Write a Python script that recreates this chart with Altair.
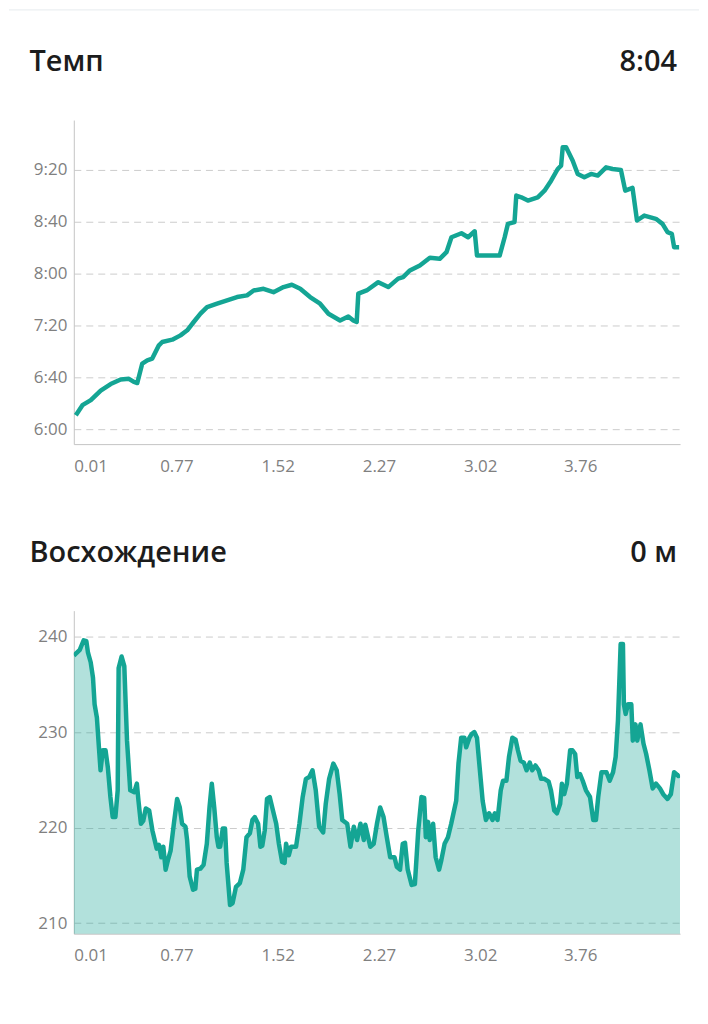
import altair as alt
import pandas as pd

# ---------------- data ----------------
pace_title = "Темп"
pace_value = "8:04"
elev_title = "Восхождение"
elev_value = "0 м"

x_ticks = [0.01, 0.77, 1.52, 2.27, 3.02, 3.76]
pace_ticks = [360, 400, 440, 480, 520, 560]   # seconds per km (6:00 ... 9:20)
elev_ticks = [210, 220, 230, 240]

pace_km = [0.025, 0.074, 0.136, 0.209, 0.283, 0.357, 0.418, 0.455, 0.480, 0.517,
           0.554, 0.591, 0.640, 0.665, 0.739, 0.800, 0.850, 0.898, 0.948, 0.997,
           1.071, 1.145, 1.219, 1.293, 1.342, 1.415, 1.489, 1.563, 1.625, 1.687,
           1.760, 1.834, 1.896, 1.982, 2.043, 2.080, 2.105, 2.117, 2.179, 2.265,
           2.339, 2.412, 2.449, 2.499, 2.573, 2.647, 2.720, 2.770, 2.807, 2.881,
           2.930, 2.979, 2.996, 3.090, 3.164, 3.201, 3.225, 3.274, 3.287, 3.324,
           3.373, 3.446, 3.496, 3.545, 3.594, 3.619, 3.631, 3.656, 3.705, 3.742,
           3.791, 3.841, 3.890, 3.952, 4.000, 4.062, 4.094, 4.148, 4.181, 4.235,
           4.321, 4.370, 4.407, 4.439, 4.456, 4.493]
pace_sec = [371.0, 378.7, 382.6, 390.0, 395.0, 398.5, 399.0, 396.6, 395.8, 410.8,
            413.3, 414.6, 424.8, 427.4, 429.2, 432.5, 436.4, 442.8, 449.2, 454.3,
            456.9, 459.4, 462.0, 463.3, 467.1, 468.4, 465.8, 469.7, 471.5, 468.4,
            462.0, 456.9, 449.2, 444.0, 447.1, 444.0, 442.8, 464.6, 467.1, 473.5,
            469.7, 476.2, 477.4, 482.5, 486.4, 492.3, 491.5, 496.6, 508.1, 511.2,
            508.1, 512.7, 494.0, 494.0, 494.0, 508.1, 518.4, 519.7, 540.2, 538.9,
            536.4, 538.9, 544.0, 551.7, 560.7, 563.3, 577.4, 577.4, 567.1, 556.9,
            554.3, 556.9, 555.6, 562.0, 560.7, 559.9, 544.0, 546.1, 521.0, 524.8,
            522.3, 518.4, 512.0, 510.7, 500.4, 500.4]

elev_km = [0.010, 0.054, 0.083, 0.103, 0.115, 0.135, 0.152, 0.164, 0.181, 0.196,
           0.208, 0.225, 0.245, 0.262, 0.281, 0.298, 0.318, 0.335, 0.342, 0.364,
           0.384, 0.404, 0.428, 0.458, 0.477, 0.489, 0.507, 0.524, 0.543, 0.568,
           0.592, 0.624, 0.641, 0.658, 0.673, 0.690, 0.707, 0.727, 0.751, 0.775,
           0.795, 0.812, 0.837, 0.849, 0.868, 0.893, 0.910, 0.922, 0.947, 0.971,
           0.995, 1.015, 1.032, 1.050, 1.069, 1.081, 1.094, 1.113, 1.130, 1.142,
           1.167, 1.186, 1.211, 1.240, 1.265, 1.289, 1.314, 1.333, 1.350, 1.375,
           1.392, 1.406, 1.424, 1.441, 1.461, 1.485, 1.509, 1.529, 1.553, 1.571,
           1.582, 1.602, 1.619, 1.656, 1.681, 1.705, 1.729, 1.754, 1.778, 1.802,
           1.827, 1.857, 1.876, 1.901, 1.932, 1.957, 1.979, 1.998, 2.035, 2.059,
           2.084, 2.108, 2.133, 2.158, 2.169, 2.206, 2.231, 2.255, 2.279, 2.304,
           2.328, 2.353, 2.385, 2.402, 2.426, 2.446, 2.463, 2.483, 2.512, 2.536,
           2.561, 2.585, 2.605, 2.617, 2.634, 2.646, 2.671, 2.690, 2.715, 2.732,
           2.756, 2.781, 2.805, 2.842, 2.859, 2.879, 2.903, 2.916, 2.940, 2.957,
           2.976, 2.996, 3.013, 3.038, 3.062, 3.086, 3.111, 3.128, 3.148, 3.172,
           3.189, 3.214, 3.233, 3.258, 3.282, 3.299, 3.319, 3.343, 3.363, 3.387,
           3.405, 3.429, 3.453, 3.471, 3.495, 3.527, 3.544, 3.568, 3.588, 3.612,
           3.625, 3.642, 3.662, 3.686, 3.703, 3.723, 3.739, 3.759, 3.779, 3.803,
           3.833, 3.857, 3.877, 3.894, 3.918, 3.955, 3.979, 4.004, 4.023, 4.040,
           4.060, 4.077, 4.084, 4.097, 4.114, 4.139, 4.150, 4.170, 4.183, 4.207,
           4.229, 4.249, 4.273, 4.297, 4.322, 4.351, 4.375, 4.407, 4.432, 4.456,
           4.488, 4.500]
elev_m = [238.0, 238.6, 239.6, 239.5, 238.3, 237.3, 235.7, 232.9, 231.5, 228.4,
          226.0, 228.1, 228.1, 226.3, 223.2, 221.1, 221.1, 223.9, 236.7, 237.9,
          236.9, 229.1, 223.9, 223.7, 224.6, 222.8, 220.4, 220.7, 222.0, 221.8,
          219.7, 217.8, 218.2, 216.9, 218.0, 215.6, 216.6, 217.6, 220.4, 223.0,
          222.1, 220.4, 220.1, 218.7, 214.9, 213.5, 213.6, 215.6, 215.7, 216.1,
          218.3, 222.1, 224.6, 222.1, 219.0, 218.0, 218.0, 219.9, 219.9, 216.3,
          211.9, 212.1, 213.8, 214.2, 215.6, 219.0, 219.4, 220.8, 221.1, 220.4,
          218.0, 218.1, 219.7, 223.0, 223.2, 221.8, 220.4, 218.3, 216.4, 216.3,
          218.3, 217.1, 218.0, 218.0, 220.4, 223.2, 225.1, 225.3, 226.0, 223.9,
          220.1, 219.5, 222.5, 225.1, 226.7, 226.0, 223.5, 220.8, 220.4, 218.0,
          220.1, 218.7, 220.4, 218.7, 220.3, 218.0, 218.3, 220.4, 222.1, 221.1,
          219.0, 216.9, 216.9, 215.9, 215.6, 218.3, 218.4, 215.6, 214.0, 214.1,
          219.7, 223.2, 223.1, 219.0, 220.6, 218.7, 220.4, 216.9, 215.6, 216.6,
          218.3, 219.0, 220.4, 222.8, 226.7, 229.4, 229.4, 228.4, 229.4, 229.8,
          230.0, 229.4, 226.7, 222.8, 220.8, 221.5, 220.8, 221.5, 220.8, 223.9,
          224.9, 224.9, 227.4, 229.4, 229.2, 228.1, 227.0, 226.8, 226.0, 226.8,
          226.0, 226.5, 226.0, 225.1, 225.1, 224.8, 223.9, 221.8, 221.5, 222.5,
          224.6, 223.5, 224.6, 228.1, 228.1, 227.7, 225.3, 225.6, 224.9, 223.9,
          223.2, 220.8, 220.8, 223.2, 225.8, 225.8, 224.9, 225.8, 227.4, 231.2,
          239.2, 239.2, 232.9, 231.9, 232.9, 232.9, 229.1, 230.8, 229.1, 230.8,
          228.8, 227.7, 226.0, 224.1, 224.6, 224.1, 223.5, 223.0, 223.5, 225.8,
          225.4, 225.5]

# ---------------- style ----------------
TEAL = "#14a594"
FONT = "Open Sans"
LABEL = "#808080"
W = 608

pace_df = pd.DataFrame({"km": pace_km, "sec": pace_sec})
elev_df = pd.DataFrame({"km": elev_km, "m": elev_m})


def x_enc():
    return alt.X(
        "km:Q",
        scale=alt.Scale(domain=[0.01, 4.50], nice=False, zero=False),
        axis=alt.Axis(values=x_ticks, format=".2f", title=None, grid=False,
                      labelFlush=True, labelPadding=14),
    )


def header(title, value, with_rule=False):
    df = pd.DataFrame({"t": [title], "v": [value]})
    left = alt.Chart(df).mark_text(
        align="left", baseline="alphabetic", font=FONT, fontSize=29,
        fontWeight=600, color="#1c1c1c"
    ).encode(text="t:N", x=alt.value(-44.5), y=alt.value(-49))
    right = alt.Chart(df).mark_text(
        align="right", baseline="alphabetic", font=FONT, fontSize=29,
        fontWeight=600, color="#1c1c1c"
    ).encode(text="v:N", x=alt.value(W - 3), y=alt.value(-49))
    layers = [left, right]
    if with_rule:
        rule = alt.Chart(df).mark_rule(color="#e6ebee", strokeWidth=1).encode(
            x=alt.value(-65), x2=alt.value(627), y=alt.value(-110.5))
        layers.append(rule)
    return layers


pace_line = alt.Chart(pace_df).mark_line(
    color=TEAL, strokeWidth=4.5, strokeJoin="round"
).encode(
    x=x_enc(),
    y=alt.Y(
        "sec:Q",
        scale=alt.Scale(domain=[348.7, 598.4], nice=False, zero=False),
        axis=alt.Axis(
            values=pace_ticks, title=None, grid=True, labelPadding=7,
            labelExpr="floor(datum.value/60) + ':' + (datum.value % 60 < 10 ? '0' : '') + (datum.value % 60)",
        ),
    ),
)

pace_chart = alt.layer(pace_line, *header(pace_title, pace_value, True)).properties(
    width=W, height=325)

elev_y = alt.Y(
    "m:Q",
    scale=alt.Scale(domain=[208.9, 242.7], nice=False, zero=False),
    axis=alt.Axis(values=elev_ticks, title=None, grid=True, labelPadding=7),
)
elev_area = alt.Chart(elev_df).mark_area(color=TEAL, opacity=0.33, clip=True).encode(
    x=x_enc(), y=elev_y)
elev_line = alt.Chart(elev_df).mark_line(
    color=TEAL, strokeWidth=4.5, strokeJoin="round", clip=True
).encode(x=x_enc(), y=elev_y)

elev_chart = alt.layer(elev_area, elev_line, *header(elev_title, elev_value)).properties(
    width=W, height=324)

chart = alt.vconcat(pace_chart, elev_chart, spacing=65).properties(
    padding={"left": 0, "top": 0, "right": 0, "bottom": 0},
    background="white",
).configure_view(stroke=None).configure_axis(
    domainColor="#c4c4c4", domainWidth=1, ticks=False, tickSize=0,
    gridColor="#cccccc", gridDash=[7, 5], gridWidth=1,
    labelFont=FONT, labelFontSize=17, labelColor=LABEL,
)

chart.save("out.html", embed_options={"renderer": "svg", "actions": False})
